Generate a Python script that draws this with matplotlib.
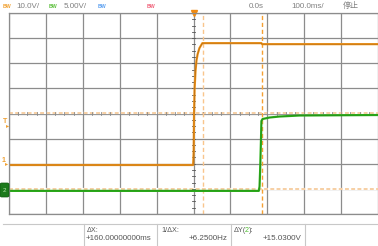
"""Oscilloscope capture: CH1 / CH2 step response with cursors."""
import matplotlib.pyplot as plt
from matplotlib.patches import FancyBboxPatch
import numpy as np

W, H = 378, 246

# timebase: 100 ms/div, 10 divisions, trigger at centre
t_div = 100.0
# CH1 (orange) 10 V/div, ground 2 div below centre
ch1_scale, ch1_offset = 10.0, -2.0
ch1_t = [-500, -1, 0.5, 1.5, 3, 5.5, 8, 11, 16, 24, 184, 186, 500]
ch1_v = [-0.5, -0.5, 5, 20, 30, 37, 41, 43.5, 46, 48, 48, 47.6, 47.6]
# CH2 (green) 5 V/div, ground 3 div below centre
ch2_scale, ch2_offset = 5.0, -3.0
ch2_t = [-500, 177, 179, 180.5, 183, 184, 187, 206, 233, 287, 500]
ch2_v = [-0.4, -0.4, 0.5, 3.5, 10.1, 13.5, 13.9, 14.2, 14.4, 14.6, 14.7]

# cursors
cur_x = [25.0, 185.0]          # ms
cur_y = [15.03, 0.0]           # V on CH2
readout_labels = ["ΔX:", "1/ΔX:", "ΔY(2):"]
readout_values = ["+160.00000000ms", "+6.2500Hz", "+15.0300V"]

FONT = ["Liberation Sans", "Noto Sans CJK SC", "DejaVu Sans"]
plt.rcParams["font.family"] = FONT

fig = plt.figure(figsize=(W / 100, H / 100), dpi=100)
fig.patch.set_facecolor("white")


def fx(px):
    return px / W


def fy(py):
    return 1 - py / H


ax = fig.add_axes([fx(9), fy(214), fx(378) - fx(9), fy(13) - fy(214)])
ax.set_xlim(-5 * t_div, 5 * t_div)
ax.set_ylim(-4, 4)
ax.set_xticks(np.arange(-5, 6) * t_div)
ax.set_yticks(np.arange(-4, 5))
ax.tick_params(length=0, labelbottom=False, labelleft=False)
ax.grid(True, color="#8c8c8c", lw=0.9)
for s in ax.spines.values():
    s.set_color("#8c8c8c")
    s.set_linewidth(0.9)
ax.spines["right"].set_visible(False)

# Y cursors (dotted, pale orange) covering the graticule under them
for v in cur_y:
    yy = v / ch2_scale + ch2_offset
    ax.axhline(yy, color="white", lw=1.6)
    ax.axhline(yy, color="#f6cfa4", lw=1.4, ls=(0, (2, 1.2)))

# centre graticule ticks (4 per division)
for yy in np.arange(-4, 4.01, 0.25):
    ax.plot([-5, 5], [yy, yy], color="#555555", lw=0.6)
for xx in np.arange(-500, 501, 25):
    ax.plot([xx, xx], [-0.04, 0.04], color="#8a8a8a", lw=0.6)

# X cursors
ax.axvline(cur_x[0], color="#f9c58c", lw=1.0, ls=(0, (3, 2)))
ax.axvline(cur_x[1], color="#f5a032", lw=1.0, ls=(0, (3, 2)))

# traces
y1 = np.array(ch1_v) / ch1_scale + ch1_offset
y2 = np.array(ch2_v) / ch2_scale + ch2_offset
ax.plot(ch2_t, y2, color="#2fb21c", lw=1.6, solid_joinstyle="round")
ax.plot(ch2_t, y2, color="#1b7a12", lw=0.5, alpha=0.7)
ax.plot(ch1_t, y1, color="#f0961e", lw=1.6, solid_joinstyle="round")
ax.plot(ch1_t, y1, color="#9a5608", lw=0.5, alpha=0.7)

# trigger marker at top
ax.plot([0], [4], marker="v", color="#f08a10", ms=5, clip_on=False)

# header
hy = fy(6)
fig.text(fx(3), hy, "BW", color="#f0a030", fontsize=3.8, va="center", weight="bold")
fig.text(fx(16), hy, "10.0V/", color="#808080", fontsize=5.8, va="center")
fig.text(fx(49), hy, "BW", color="#5cbf3c", fontsize=3.8, va="center", weight="bold")
fig.text(fx(64), hy, "5.00V/", color="#808080", fontsize=5.8, va="center")
fig.text(fx(98), hy, "BW", color="#5a9ff0", fontsize=3.8, va="center", weight="bold")
fig.text(fx(147), hy, "BW", color="#f06078", fontsize=3.8, va="center", weight="bold")
fig.text(fx(264), hy, "0.0s", color="#808080", fontsize=5.8, va="center", ha="right")
fig.text(fx(291), hy, "100.0ms/", color="#808080", fontsize=5.8, va="center")
fig.text(fx(343), hy, "停止", color="#808080", fontsize=5.8, va="center")

# channel markers on the left
fig.patches.append(FancyBboxPatch((fx(0), fy(197)), fx(9), fy(183) - fy(197),
                                  boxstyle="round,pad=0,rounding_size=0.005",
                                  transform=fig.transFigure, fc="#1c7a1c",
                                  ec="#0f5a0f", lw=0.5))
fig.text(fx(4), fy(190), "2", color="#b8e8b0", fontsize=4.5, ha="center", va="center")
fig.text(fx(3), fy(161), "1", color="#f0a030", fontsize=5, ha="center", va="center",
         weight="bold")
fig.text(fx(7), fy(163.5), "▸", color="#f0a030", fontsize=4.5, ha="center", va="center",
         family="DejaVu Sans")
fig.text(fx(5), fy(122), "T", color="#f0a030", fontsize=5, ha="center", va="center",
         weight="bold")
fig.text(fx(7.5), fy(125.5), "▸", color="#f0a030", fontsize=4.5, ha="center", va="center",
         family="DejaVu Sans")

# readout panel
fig.add_artist(plt.Line2D([fx(3), fx(378)], [fy(224), fy(224)],
                          color="#c8c8c8", lw=0.8))
for px in [84, 157, 231, 305]:
    fig.add_artist(plt.Line2D([fx(px), fx(px)], [fy(224), fy(246)],
                              color="#c8c8c8", lw=0.8))
fig.text(fx(87), fy(230), readout_labels[0], color="#555555", fontsize=5.2, va="center")
fig.text(fx(86), fy(239), readout_values[0], color="#555555", fontsize=5.8, va="center")
fig.text(fx(161), fy(230), readout_labels[1], color="#555555", fontsize=5.2, va="center")
fig.text(fx(228), fy(239), readout_values[1], color="#555555", fontsize=5.8, va="center", ha="right")
fig.text(fx(234), fy(230), "ΔY(", color="#555555", fontsize=5.2, va="center")
fig.text(fx(245), fy(230), "2", color="#4cbf2c", fontsize=5.2, va="center")
fig.text(fx(248.5), fy(230), "):", color="#555555", fontsize=5.2, va="center")
fig.text(fx(302), fy(239), readout_values[2], color="#555555", fontsize=5.8, va="center", ha="right")

fig.savefig("out.png", dpi=100, facecolor="white")
